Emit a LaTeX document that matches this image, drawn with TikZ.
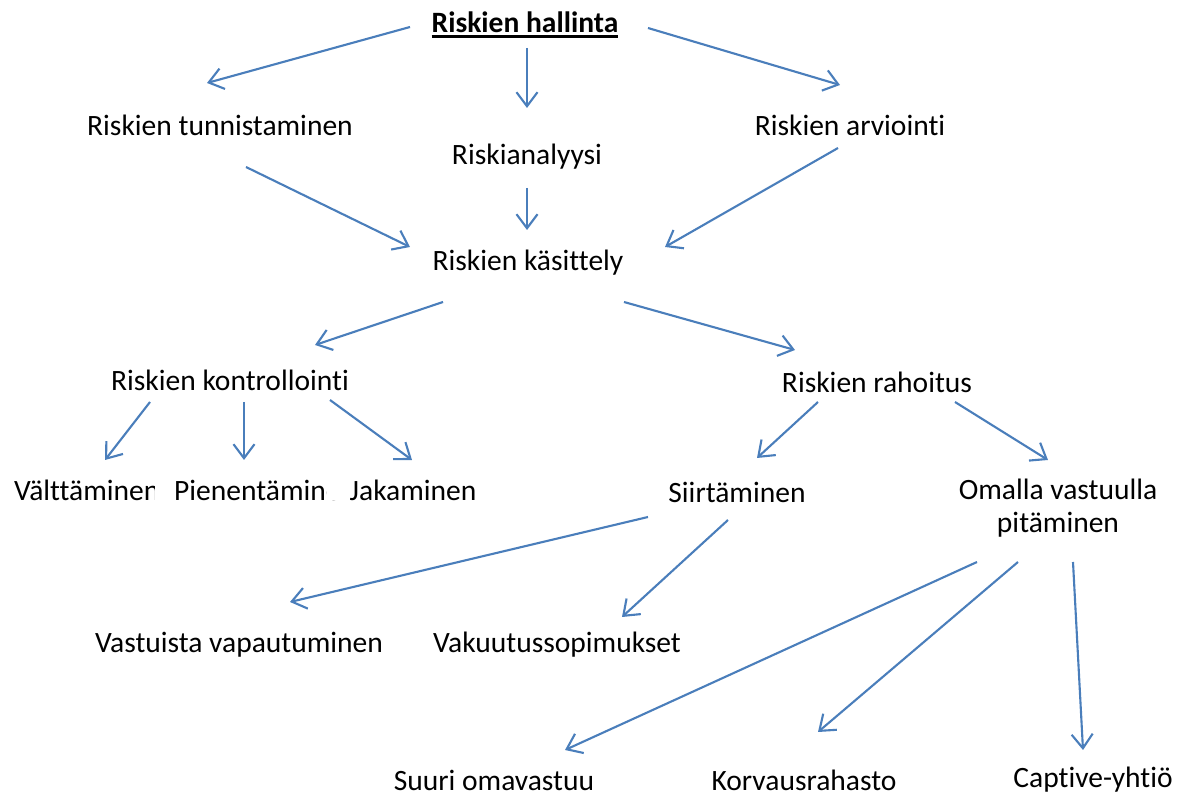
\documentclass[tikz,border=0pt]{standalone}
\usepackage{fontspec}
\setmainfont{Carlito}[Ligatures={NoCommon,NoDiscretionary}]
\usetikzlibrary{arrows.meta,calc}
\definecolor{arrblue}{RGB}{74,126,187}
\newcommand\thickul[1]{\setbox0\hbox{#1}\leavevmode\rlap{\rule[-2.4pt]{\wd0}{1.2pt}}\box0}

\begin{document}
\begin{tikzpicture}[x=0.015cm,y=-0.015cm,
    lbl/.style={font=\fontsize{12.6}{14.1}\selectfont, inner sep=0pt, align=center},
    cut/.style={lbl, fill=white, inner xsep=8pt, anchor=west},
    arr/.style={-{Straight Barb[length=6pt,width=9pt]}, line width=0.9pt, arrblue},
]
    \useasboundingbox (0,0) rectangle (1183,796);

    % top levels
    \node[lbl] (hallinta) at (525,25) {\thickul{\textbf{Riskien hallinta}}};
    \node[lbl] (tunnist) at (220,125) {Riskien tunnistaminen};
    \node[lbl] (analyysi) at (527,157) {Riskianalyysi};
    \node[lbl] (arvio) at (850,125) {Riskien arviointi};
    \node[lbl] (kasittely) at (528,263) {Riskien käsittely};
    \node[lbl] (kontroll) at (230,380) {Riskien kontrollointi};
    \node[lbl] (rahoitus) at (877,382) {Riskien rahoitus};

    % boxes overlap, later one hides the end of the earlier
    \node[cut] (valtt) at (-5,490) {Välttäminen};
    \node[cut] (pienent) at (155,490) {Pienentäminen};
    \node[cut, inner xsep=9.5pt] (jakam) at (327,490) {Jakaminen};

    \node[lbl] (siirt) at (737,492) {Siirtäminen};
    \node[lbl] (omalla) at (1058,508) {Omalla vastuulla\\pitäminen};
    \node[lbl] (vastuista) at (239,645) {Vastuista vapautuminen};
    \node[lbl] (vakuutus) at (557,645) {Vakuutussopimukset};
    \node[lbl] (suuri) at (494,780) {Suuri omavastuu};
    \node[lbl] (korvaus) at (804,780) {Korvausrahasto};
    \node[lbl] (captive) at (1093,780) {Captive-yhtiö};

    % connectors
    \draw[arr] ($(hallinta)+(-115,2)$) -- ($(tunnist)+(-13,-42)$);
    \draw[arr] ($(hallinta)+(2,23)$) -- ($(analyysi)+(0,-49)$);
    \draw[arr] ($(hallinta)+(123,3)$) -- ($(arvio)+(-10,-40)$);
    \draw[arr] ($(tunnist)+(26,42)$) -- ($(kasittely)+(-118,-16)$);
    \draw[arr] ($(analyysi)+(0,31)$) -- ($(kasittely)+(-1,-33)$);
    \draw[arr] ($(arvio)+(-12,23)$) -- ($(kasittely)+(137,-16)$);
    \draw[arr] ($(kasittely)+(-85,39)$) -- ($(kontroll)+(85,-35)$);
    \draw[arr] ($(kasittely)+(96,39)$) -- ($(rahoitus)+(-82,-32)$);
    \draw[arr] ($(kontroll)+(-80,22)$) -- ($(valtt.west)+(110,-30)$);
    \draw[arr] ($(kontroll)+(14,22)$) -- ($(pienent.west)+(89,-30)$);
    \draw[arr] ($(kontroll)+(100,20)$) -- ($(jakam.west)+(85,-30)$);
    \draw[arr] ($(rahoitus)+(-59,20)$) -- ($(siirt)+(20,-34)$);
    \draw[arr] ($(rahoitus)+(78,20)$) -- ($(omalla)+(-10,-48)$);
    \draw[arr] ($(siirt)+(-89,25)$) -- ($(vastuista)+(51,-43)$);
    \draw[arr] ($(siirt)+(-9,28)$) -- ($(vakuutus)+(65,-28)$);
    \draw[arr] ($(omalla)+(-81,54)$) -- ($(suuri)+(71,-30)$);
    \draw[arr] ($(omalla)+(-40,54)$) -- ($(korvaus)+(14,-48)$);
    \draw[arr] ($(omalla)+(15,54)$) -- ($(captive)+(-10,-30)$);
\end{tikzpicture}
\end{document}
